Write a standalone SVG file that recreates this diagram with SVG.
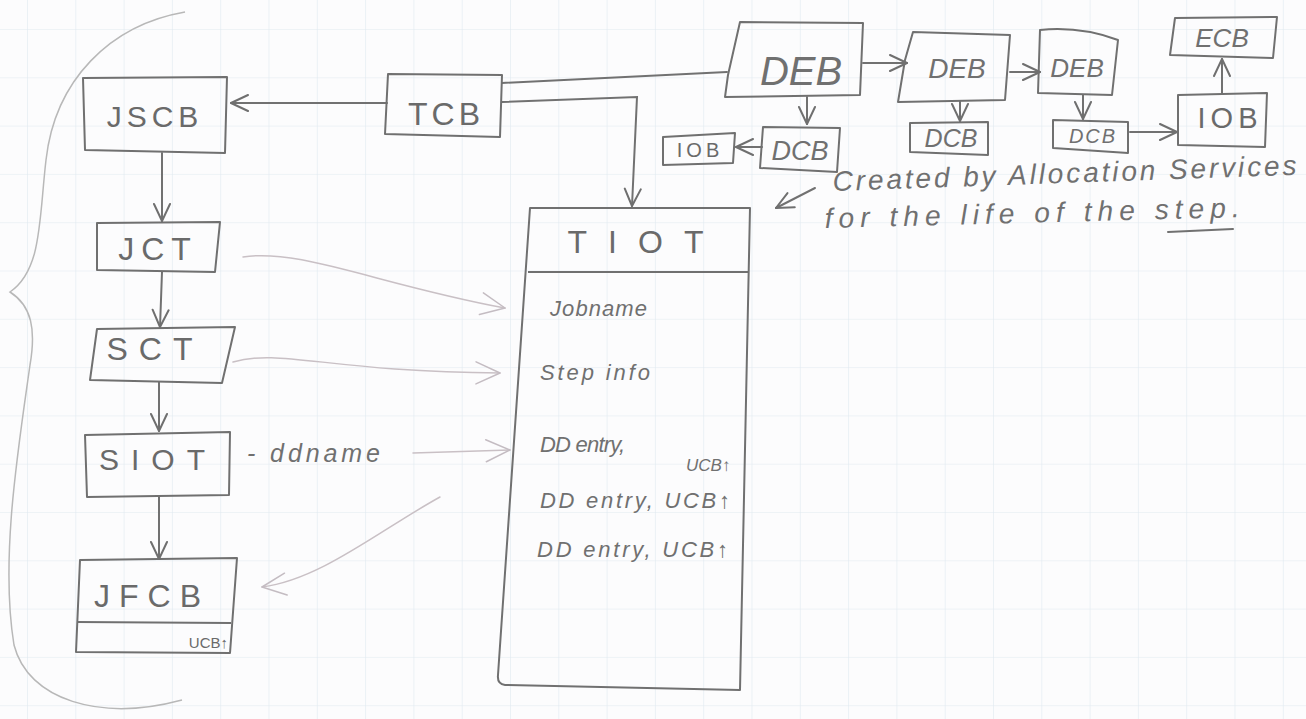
<svg xmlns="http://www.w3.org/2000/svg" width="1306" height="719" viewBox="0 0 1306 719">
  <defs>
    <pattern id="grid" x="27" y="29" width="48.3" height="48.3" patternUnits="userSpaceOnUse">
      <path d="M0,0 H48.3 M0,0 V48.3" fill="none" stroke="#e0e9f0" stroke-width="1.2"/>
    </pattern>
    <marker id="arr" viewBox="0 0 20 20" refX="19" refY="10" markerWidth="20" markerHeight="20" markerUnits="userSpaceOnUse" orient="auto">
      <path d="M2,2 L19,10 L2,18" fill="none" stroke="#6f6f6f" stroke-width="2" stroke-linecap="round" stroke-linejoin="round"/>
    </marker>
    <marker id="arrL" viewBox="0 0 30 30" refX="28" refY="15" markerWidth="30" markerHeight="30" markerUnits="userSpaceOnUse" orient="auto">
      <path d="M4,4 L28,15 L4,26" fill="none" stroke="#c4bcc2" stroke-width="1.5" stroke-linecap="round" stroke-linejoin="round"/>
    </marker>
    <style>
      .box { fill: none; stroke: #707070; stroke-width: 2; stroke-linejoin: round; }
      .conn { fill: none; stroke: #717171; stroke-width: 2; stroke-linecap: round; }
      .light { fill: none; stroke: #c9c0c5; stroke-width: 1.5; stroke-linecap: round; }
      .brace { fill: none; stroke: #b8b8b8; stroke-width: 1.5; }
      .t { font-family: "Liberation Sans", Arial, sans-serif; fill: #6a6a6a; }
      .hw { font-family: "Liberation Sans", Arial, sans-serif; fill: #707070; font-style: italic; }
    </style>
  </defs>

  <rect width="1306" height="719" fill="#fcfcfd"/>
  <rect width="1306" height="719" fill="url(#grid)"/>

  <!-- brace -->
  <path class="brace" d="M185,12 C110,25 55,80 46,160 C39,220 42,270 10,292 C32,306 36,330 30,365 C18,450 0,560 14,645 C28,700 100,722 182,700"/>

  <g id="connectors">
    <path class="conn" d="M387,103 L231,103" marker-end="url(#arr)"/>
    <path class="conn" d="M162,153 L162,221" marker-end="url(#arr)"/>
    <path class="conn" d="M162,272 L160,327" marker-end="url(#arr)"/>
    <path class="conn" d="M159,382 L159,431" marker-end="url(#arr)"/>
    <path class="conn" d="M159,497 L159,559" marker-end="url(#arr)"/>
    <path class="conn" d="M502,102 L637,97 L632,206" marker-end="url(#arr)"/>
    <path class="conn" d="M502,83 L727,72"/>
    <path class="conn" d="M863,63 L907,63" marker-end="url(#arr)"/>
    <path class="conn" d="M1010,72 L1040,72" marker-end="url(#arr)"/>
    <path class="conn" d="M807,97 L807,124" marker-end="url(#arr)"/>
    <path class="conn" d="M762,147 L736,147" marker-end="url(#arr)"/>
    <path class="conn" d="M960,101 L960,121" marker-end="url(#arr)"/>
    <path class="conn" d="M1083,95 L1083,119" marker-end="url(#arr)"/>
    <path class="conn" d="M1130,132 L1177,132" marker-end="url(#arr)"/>
    <path class="conn" d="M1222,93 L1222,59" marker-end="url(#arr)"/>
    <path class="conn" d="M815,188 L776,208" marker-end="url(#arr)" stroke-width="1.6"/>
    <path class="light" d="M243,257 C300,248 380,285 505,308" marker-end="url(#arrL)" stroke="#d2c4c9"/>
    <path class="light" d="M233,362 C280,348 330,372 500,373" marker-end="url(#arrL)" stroke="#bcc8d3"/>
    <path class="light" d="M413,453 L510,450" marker-end="url(#arrL)"/>
    <path class="light" d="M440,497 C380,530 320,580 262,587" marker-end="url(#arrL)"/>
  </g>

  <g id="JSCB">
    <path class="box" d="M83,78 L227,77 L225,153 L85,150 Z"/>
    <text class="t" x="155" y="127" font-size="30" letter-spacing="5" text-anchor="middle">JSCB</text>
  </g>
  <g id="TCB">
    <path class="box" d="M388,74 L502,75 L500,137 L385,134 Z"/>
    <text class="t" x="446" y="125" font-size="32" letter-spacing="4" text-anchor="middle">TCB</text>
  </g>
  <g id="JCT">
    <path class="box" d="M97,223 L220,222 L215,272 L97,270 Z"/>
    <text class="t" x="158" y="260" font-size="32" letter-spacing="7" text-anchor="middle">JCT</text>
  </g>
  <g id="SCT">
    <path class="box" d="M97,329 L235,327 L222,383 L90,380 Z"/>
    <text class="t" x="155" y="360" font-size="32" letter-spacing="11" text-anchor="middle">SCT</text>
  </g>
  <g id="SIOT">
    <path class="box" d="M85,435 L230,432 L229,495 L87,497 Z"/>
    <text class="t" x="158" y="470" font-size="30" letter-spacing="12" text-anchor="middle">SIOT</text>
    <text class="hw" x="247" y="462" font-size="25" textLength="133" lengthAdjust="spacing">- ddname</text>
  </g>
  <g id="JFCB">
    <path class="box" d="M80,560 L237,558 L230,653 L76,652 Z"/>
    <path class="box" d="M77,622 L231,623"/>
    <text class="t" x="152" y="607" font-size="32" letter-spacing="9" text-anchor="middle">JFCB</text>
    <text class="t" x="228" y="648" font-size="15" text-anchor="end">UCB↑</text>
  </g>
  <g id="TIOT">
    <path class="box" d="M530,208 L750,208 L740,690 L505,685 Q497,684 498,675 Z"/>
    <path class="box" d="M528,272 L748,272"/>
    <text class="t" x="646" y="253" font-size="32" letter-spacing="21" text-anchor="middle">TIOT</text>
    <text class="hw" x="550" y="316" font-size="22" textLength="97" lengthAdjust="spacing">Jobname</text>
    <text class="hw" x="540" y="380" font-size="22" textLength="110" lengthAdjust="spacing">Step info</text>
    <text class="hw" x="540" y="452" font-size="22" textLength="85" lengthAdjust="spacing">DD entry,</text>
    <text class="hw" x="686" y="471" font-size="17">UCB↑</text>
    <text class="hw" x="540" y="508" font-size="22" textLength="190" lengthAdjust="spacing">DD entry, UCB↑</text>
    <text class="hw" x="537" y="557" font-size="22" textLength="191" lengthAdjust="spacing">DD entry, UCB↑</text>
  </g>
  <g id="DEB1">
    <path class="box" d="M740,22 L863,23 L860,95 L725,97 L728,75 Z"/>
    <text class="hw" x="801" y="85" font-size="40" text-anchor="middle">DEB</text>
  </g>
  <g id="DEB2">
    <path class="box" d="M913,32 L1010,35 L1005,100 L898,102 L905,60 Z"/>
    <text class="hw" x="957" y="78" font-size="28" text-anchor="middle">DEB</text>
  </g>
  <g id="DEB3">
    <path class="box" d="M1040,30 Q1080,26 1118,40 L1112,95 L1038,93 Z"/>
    <text class="hw" x="1077" y="77" font-size="26" text-anchor="middle">DEB</text>
  </g>
  <g id="DCB1">
    <path class="box" d="M763,127 L840,128 L837,172 L760,168 Z"/>
    <text class="hw" x="800" y="160" font-size="27" text-anchor="middle">DCB</text>
  </g>
  <g id="IOB1">
    <path class="box" d="M663,137 L735,133 L733,163 L663,165 Z"/>
    <text class="t" x="700" y="157" font-size="20" letter-spacing="4" text-anchor="middle">IOB</text>
  </g>
  <g id="DCB2">
    <path class="box" d="M910,123 L988,122 L988,155 L910,152 Z"/>
    <text class="hw" x="951" y="147" font-size="25" text-anchor="middle">DCB</text>
  </g>
  <g id="DCB3">
    <path class="box" d="M1053,120 L1128,122 L1128,153 L1053,148 Z"/>
    <text class="hw" x="1093" y="143" font-size="20" letter-spacing="2" text-anchor="middle">DCB</text>
  </g>
  <g id="IOB2">
    <path class="box" d="M1178,95 L1267,93 L1265,147 L1178,145 Z"/>
    <text class="t" x="1230" y="128" font-size="29" letter-spacing="5" text-anchor="middle">IOB</text>
  </g>
  <g id="ECB">
    <path class="box" d="M1175,18 L1277,17 L1273,58 L1170,55 Z"/>
    <text class="hw" x="1222" y="47" font-size="26" text-anchor="middle">ECB</text>
  </g>
  <g id="note">
    <text class="hw" x="833" y="191" font-size="28" textLength="464" lengthAdjust="spacing" transform="rotate(-2 833 191)">Created by Allocation Services</text>
    <text class="hw" x="825" y="228" font-size="28" textLength="415" lengthAdjust="spacing" transform="rotate(-1.5 825 228)">for the life of the step.</text>
    <path class="conn" stroke-width="1.6" d="M1168,232 L1233,229"/>
  </g>
</svg>
